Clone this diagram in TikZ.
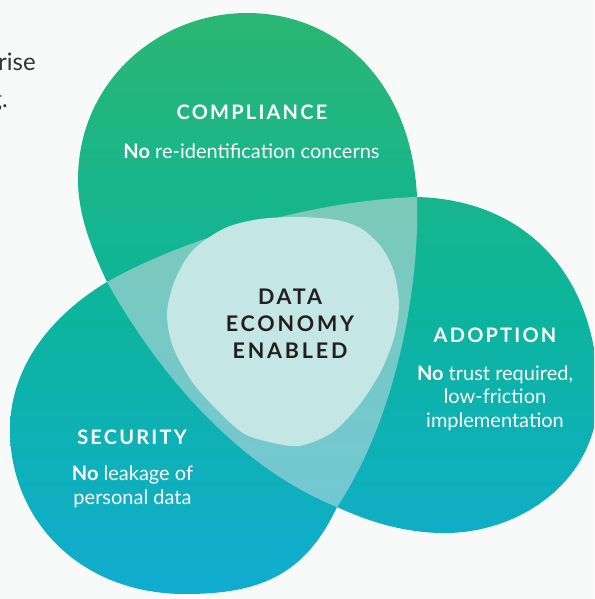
\documentclass[tikz,border=0pt]{standalone}
\usepackage{fontspec}
\setmainfont{Lato}
\newfontfamily\titlefont[LetterSpace=11]{Lato}
\newfontfamily\corefont[LetterSpace=13]{Lato}
\usetikzlibrary{calc}
\definecolor{bg}{HTML}{F8FAFA}
\definecolor{petaltop}{HTML}{2BB673}
\definecolor{petalmid}{HTML}{0CB59B}
\definecolor{petalbot}{HTML}{10ACD2}
\definecolor{overlaptop}{HTML}{7BC9B9}
\definecolor{overlapbot}{HTML}{72C8D3}
\definecolor{core}{HTML}{C4E6E5}
\definecolor{ink}{HTML}{231F20}
\definecolor{prose}{HTML}{333333}

\tikzset{
  title/.style={font=\titlefont\bfseries\fontsize{20}{24}\selectfont,text=white,anchor=base,inner sep=0pt},
  body/.style={font=\fontsize{20}{23.5}\selectfont,text=white,align=center,anchor=base,inner sep=0pt},
  coretext/.style={font=\corefont\bfseries\fontsize{21.5}{27}\selectfont,text=ink,align=center,anchor=base,inner sep=0pt},
  prosetext/.style={font=\fontsize{24}{37}\selectfont,text=prose,anchor=base east,inner sep=0pt}
}

\begin{document}
\begin{tikzpicture}[x=1pt,y=-1pt]
  \useasboundingbox (0,0) rectangle (594,599);
  \clip (0,0) rectangle (594,599);
  \fill[bg] (0,0) rectangle (594,599);

  \coordinate (A) at (107,282);
  \coordinate (B) at (417,197);
  \coordinate (C) at (337,507);

  % the three petals as one outline
  \path[top color=petaltop,bottom color=petalbot,middle color=petalmid]
    (A) .. controls (92,250) and (78,215) .. (78,180)
        .. controls (78,80) and (160,13) .. (247,13)
        .. controls (340,13) and (412,85) .. (B)
        .. controls (530,200) and (598,280) .. (598,395)
        .. controls (598,480) and (520,535) .. (440,533)
        .. controls (400,532) and (365,520) .. (C)
        .. controls (305,575) and (260,594) .. (185,594)
        .. controls (80,594) and (10,520) .. (10,430)
        .. controls (10,360) and (60,310) .. (A) -- cycle;

  % overlap of all three
  \path[top color=overlaptop,bottom color=overlapbot]
    (A) .. controls (190,235) and (320,200) .. (B)
        .. controls (420,290) and (395,420) .. (C)
        .. controls (245,470) and (165,385) .. (A) -- cycle;

  \fill[core] plot[smooth cycle] coordinates {(300,217) (337,220) (362,229) (382,248) (394,272)
    (399,305) (394,338) (381,371) (360,404) (333,432) (299,446) (265,441) (243,433) (220,413)
    (193,383) (173,347) (167,313) (175,280) (193,250) (225,228) (260,219)};

  \node (prosea) at (36,70.7)[prosetext]{rise};
  \node (proseb) at (8,108)[prosetext]{g.};

  \node (compliance) at (252,120)[title]{COMPLIANCE};
  \node (compliancetxt) at (251.5,158)[body]{\textbf{No} re-identification concerns};

  \node (adoption) at (495,342.5)[title]{ADOPTION};
  % base of a multi-line node sits on its last line
  \node (adoptiontxt) at (495,427)[body]{\textbf{No} trust required,\\low-friction\\implementation};

  \node (security) at (132,444.5)[title]{SECURITY};
  \node (securitytxt) at (132.5,504)[body]{\textbf{No} leakage of\\personal data};

  \node (economy) at (290,358.5)[coretext]{DATA\\ECONOMY\\ENABLED};
\end{tikzpicture}
\end{document}
